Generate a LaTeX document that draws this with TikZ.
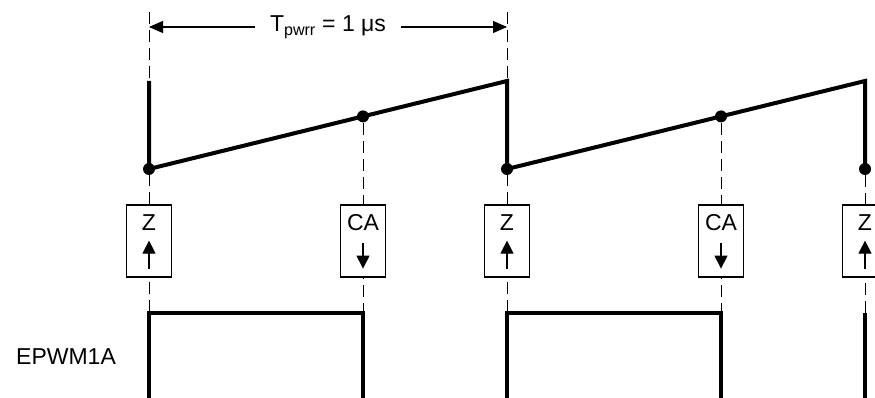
\documentclass[tikz,border=0pt]{standalone}
\usepackage{fontspec}
\setmainfont{Liberation Sans}
\usetikzlibrary{arrows.meta,positioning}

\begin{document}
\begin{tikzpicture}[
    x=1pt, y=-1pt,
    font=\fontsize{23}{27}\selectfont,
    guide/.style={dash pattern=on 12pt off 6pt, line width=1pt},
    wave/.style={line width=4pt},
    pulse/.style={line width=3.5pt},
    evbox/.style={draw, fill=white, line width=1.2pt, minimum width=45pt,
                  minimum height=72pt, inner sep=0pt},
    evtext/.style={inner sep=0pt},
    dot/.style={circle, fill, inner sep=0pt, minimum size=12pt},
    evarrow/.style={-{Triangle[length=13pt, width=13pt]}, line width=1.2pt},
    dimarrow/.style={-{Triangle[length=14pt, width=12pt]}, line width=1.2pt}
]
\useasboundingbox (0,0) rectangle (875,398);

% period marker
\coordinate (tl) at (149,27);
\coordinate (tr) at (507,27);
\node[inner xsep=15pt] (tper) at (328,27) {T\textsubscript{pwrr} = 1 μs};
\draw[dimarrow] (tper.west) -- (tl);
\draw[dimarrow] (tper.east) -- (tr);

% sawtooth counter
\node[dot] (zd1) at (149,169) {};
\node[dot] (cd1) at (363,116.4) {};
\node[dot] (zd2) at (507,169) {};
\node[dot] (cd2) at (721,116.4) {};
\node[dot] (zd3) at (865,169) {};
\coordinate (top0) at (149,81);
\coordinate (top1) at (507,81);
\coordinate (top2) at (865,81);

% guide lines
\coordinate (g0) at (149,12);
\coordinate (g1) at (507,12);
\coordinate (h0) at (149,313);
\coordinate (h1) at (363,313);
\coordinate (h2) at (507,313);
\coordinate (h3) at (721,313);
\coordinate (h4) at (865,313);
\draw[guide] (g0) -- (h0);
\draw[guide] (g1) -- (h2);
\draw[guide] (cd1) -- (h1);
\draw[guide] (cd2) -- (h3);
\draw[guide] (zd3) -- (h4);

\draw[wave] (top0) -- (zd1.center) -- (top1) -- (zd2.center) -- (top2) -- (zd3.center);

% event boxes
\node[evbox] (z1) at (149,241) {};
\node[evbox] (ca1) at (363,241) {};
\node[evbox] (z2) at (507,241) {};
\node[evbox] (ca2) at (721,241) {};
\node[evbox] (z3) at (865,241) {};
\node[evtext] (z1t) at ([yshift=-18pt]z1.north) {Z};
\node[evtext] (ca1t) at ([yshift=-18pt]ca1.north) {CA};
\node[evtext] (z2t) at ([yshift=-18pt]z2.north) {Z};
\node[evtext] (ca2t) at ([yshift=-18pt]ca2.north) {CA};
\node[evtext] (z3t) at ([yshift=-18pt]z3.north) {Z};
\draw[evarrow] ([yshift=9pt]z1.south) -- ([yshift=37pt]z1.south);
\draw[evarrow] ([yshift=35pt]ca1.south) -- ([yshift=9pt]ca1.south);
\draw[evarrow] ([yshift=9pt]z2.south) -- ([yshift=37pt]z2.south);
\draw[evarrow] ([yshift=35pt]ca2.south) -- ([yshift=9pt]ca2.south);
\draw[evarrow] ([yshift=9pt]z3.south) -- ([yshift=37pt]z3.south);

% output
\node (epwm) at (66,357) {EPWM1A};
\coordinate (b0) at (149,400);
\coordinate (b1) at (363,400);
\coordinate (b2) at (507,400);
\coordinate (b3) at (721,400);
\coordinate (b4) at (865,400);
\draw[pulse] (b0) -- (h0) -- (h1) -- (b1);
\draw[pulse] (b2) -- (h2) -- (h3) -- (b3);
\draw[pulse] (b4) -- (h4);
\end{tikzpicture}
\end{document}
